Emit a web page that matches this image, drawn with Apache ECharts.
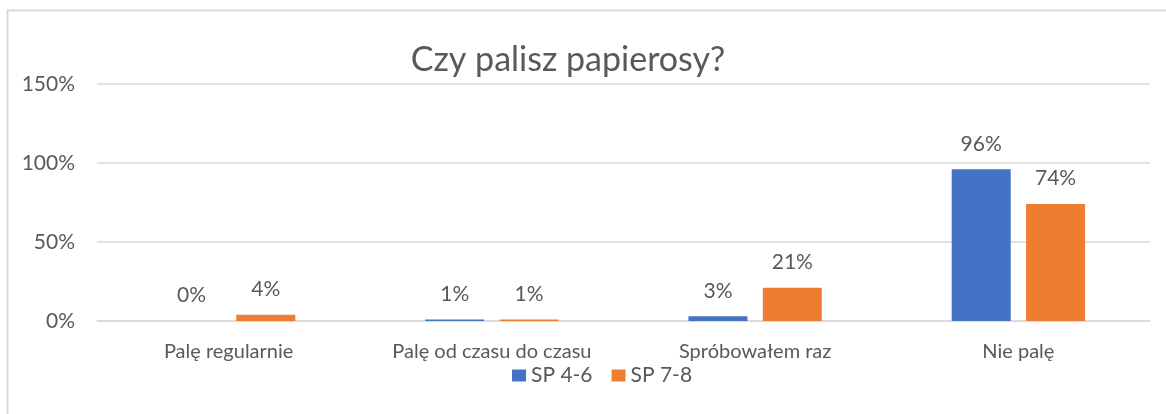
<!DOCTYPE html>
<html>
<head>
<meta charset="utf-8">
<script src="https://cdn.jsdelivr.net/npm/echarts@6/dist/echarts.min.js"></script>
<style>
  html, body { margin: 0; padding: 0; background: #fff; }
  #chart { width: 1166px; height: 414px; }
</style>
</head>
<body>
<div id="chart"></div>
<script>
const categories = ['Palę regularnie', 'Palę od czasu do czasu', 'Spróbowałem raz', 'Nie palę'];
const sp46 = [0, 1, 3, 96];
const sp78 = [4, 1, 21, 74];
const yTicks = [0, 50, 100, 150];

const textColor = '#595959';
const font = 'Lato, "Open Sans", sans-serif';

const chart = echarts.init(document.getElementById('chart'));

const labelOpt = {
  show: true,
  position: 'top',
  distance: 15,
  color: textColor,
  fontFamily: font,
  fontSize: 21,
  formatter: p => p.value + '%'
};

chart.setOption({
  backgroundColor: '#fff',
  animation: false,
  title: {
    text: 'Czy palisz papierosy?',
    left: 563,
    textAlign: 'center',
    top: 38,
    textStyle: { color: textColor, fontFamily: font, fontSize: 34, fontWeight: 'normal' }
  },
  legend: {
    bottom: 23,
    left: 507,
    itemWidth: 14,
    itemHeight: 12,
    itemGap: 19,
    icon: 'rect',
    textStyle: { color: textColor, fontFamily: font, fontSize: 21 }
  },
  grid: { left: 97, right: 16, top: 84, bottom: 93 },
  xAxis: {
    type: 'category',
    data: categories,
    axisTick: { show: false },
    axisLine: { lineStyle: { color: '#d9d9d9', width: 1.5 } },
    axisLabel: { color: textColor, fontFamily: font, fontSize: 20, margin: 21 }
  },
  yAxis: {
    type: 'value',
    min: yTicks[0],
    max: yTicks[yTicks.length - 1],
    interval: 50,
    axisLabel: { color: textColor, fontFamily: font, fontSize: 21, margin: 22, formatter: '{value}%' },
    splitLine: { lineStyle: { color: '#d9d9d9', width: 1.5 } }
  },
  series: [
    { name: 'SP 4-6', type: 'bar', data: sp46, barWidth: 59, barGap: '26%', itemStyle: { color: '#4472C4' }, label: labelOpt },
    { name: 'SP 7-8', type: 'bar', data: sp78, barWidth: 59, itemStyle: { color: '#ED7D31' }, label: labelOpt }
  ],
  graphic: [{
    type: 'rect',
    shape: { x: 7.5, y: 10.5, width: 1170, height: 410 },
    style: { fill: 'none', stroke: '#d9d9d9', lineWidth: 2 },
    silent: true
  }]
});
</script>
</body>
</html>
